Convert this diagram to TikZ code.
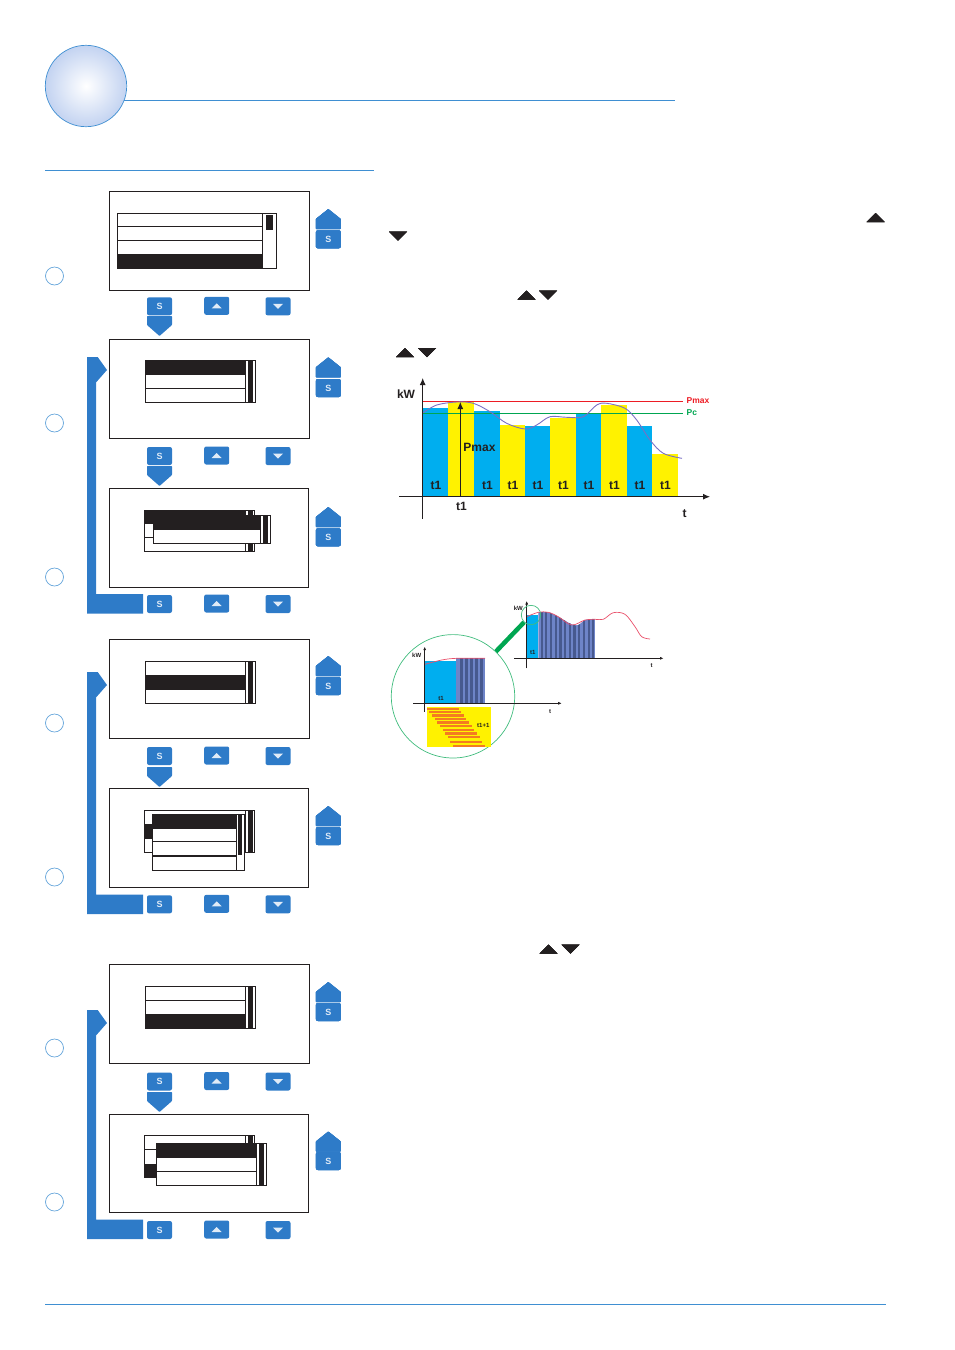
\documentclass[tikz,border=0pt]{standalone}
\usepackage{fontspec}
\setsansfont{Liberation Sans}
\usetikzlibrary{arrows.meta,shapes,positioning,calc,backgrounds,fit}
\definecolor{keyblue}{HTML}{2E7BC8}
\definecolor{rulecol}{HTML}{3F8FD2}
\definecolor{inkcol}{HTML}{231F20}
\definecolor{barcyan}{HTML}{00AEEF}
\definecolor{baryellow}{HTML}{FFF200}
\definecolor{curvecol}{HTML}{7A6FC4}
\definecolor{peakred}{HTML}{ED1C24}
\definecolor{pcgreen}{HTML}{00A651}
\definecolor{softred}{HTML}{E9506A}
\definecolor{stripelight}{HTML}{6E84C8}
\definecolor{stripedark}{HTML}{47598F}
\definecolor{stackorange}{HTML}{F47B20}
\definecolor{globeedge}{HTML}{C3D3F1}
\tikzset{
  keybtn/.style={fill=keyblue,rounded corners=2pt,minimum width=25pt,minimum height=18pt,inner sep=0pt,text=white!85!keyblue,font=\sffamily\bfseries\fontsize{9}{9}\selectfont},
  stepcirc/.style={circle,draw=rulecol!80,line width=.7pt,fill=white,minimum size=18pt,inner sep=0pt},
  rowline/.style={draw=inkcol,line width=1pt},
  chartlab/.style={inner sep=0pt,font=\sffamily\bfseries\fontsize{12}{12}\selectfont,text=inkcol},
  tinylab/.style={inner sep=0pt,font=\sffamily\bfseries\fontsize{6}{6}\selectfont,text=inkcol},
  peaklab/.style={inner sep=0pt,anchor=west,font=\sffamily\bfseries\fontsize{8.5}{9}\selectfont},
  axisline/.style={draw=inkcol,line width=.9pt,-{Latex[length=7pt,width=6pt]}},
  smallaxis/.style={draw=inkcol,line width=.6pt,-{Latex[length=3.5pt,width=3pt]}},
  tritip/.style={fill=inkcol}
}
%% keys: name, x, y
\newcommand{\keyS}[3]{\node[keybtn] (#1) at (#2,#3) {S};}
\newcommand{\keyUp}[3]{\node[keybtn] (#1) at (#2,#3) {};
  \fill[white!85!keyblue] ($(#1)+(-5,2.5)$) -- ($(#1)+(5,2.5)$) -- ($(#1)+(0,-2.5)$) -- cycle;}
\newcommand{\keyDown}[3]{\node[keybtn] (#1) at (#2,#3) {};
  \fill[white!85!keyblue] ($(#1)+(-5,-2.5)$) -- ($(#1)+(5,-2.5)$) -- ($(#1)+(0,2.5)$) -- cycle;}
%% pentagons: x centre, top y
\newcommand{\houseUp}[2]{\fill[keyblue,rounded corners=.6pt] (#1-12.5,#2+20) -- (#1-12.5,#2+10) -- (#1,#2) -- (#1+12.5,#2+10) -- (#1+12.5,#2+20) -- cycle;}
\newcommand{\houseDown}[2]{\fill[keyblue,rounded corners=.6pt] (#1-12.5,#2) -- (#1-12.5,#2+9) -- (#1,#2+20) -- (#1+12.5,#2+9) -- (#1+12.5,#2) -- cycle;}
%% bar on the left: top y, bottom y
\newcommand{\sideBar}[2]{\fill[keyblue] (87,#1) -- (97.7,#1) -- (107,#1+13) -- (96,#1+25.5) -- (96,#2-19.5) -- (143,#2-19.5) -- (143,#2) -- (87,#2) -- cycle;}
%% list: left, top, right, bottom, scroll x, selected top, selected bottom
\newcommand{\listBox}[7]{\draw[rowline,fill=white] (#1,#2) rectangle (#3,#4);
  \fill[inkcol] (#1,#6) rectangle (#5,#7);
  \draw[rowline] (#5,#2) -- (#5,#4);
  \draw[rowline] (#1,#2) rectangle (#3,#4);}
%% black pointers of the text column
\newcommand{\triUp}[2]{\fill[tritip] (#1-9,#2+4.5) -- (#1+9,#2+4.5) -- (#1,#2-4.5) -- cycle;}
\newcommand{\triDown}[2]{\fill[tritip] (#1-9,#2-4.5) -- (#1+9,#2-4.5) -- (#1,#2+4.5) -- cycle;}

\begin{document}
\begin{tikzpicture}[x=1pt,y=-1pt]
\useasboundingbox (0,0) rectangle (954,1350);
%% header
\draw[rulecol,line width=.7pt] (120,100.3) -- (675,100.3);
\draw[rulecol,line width=.7pt] (45,170.5) -- (374,170.5);
\draw[rulecol,line width=.7pt] (45,1304.3) -- (886,1304.3);
\shade[inner color=white,outer color=globeedge,draw=rulecol,line width=.7pt] (86,86) circle (40.7);
%% step circles
\foreach \nm/\yy in {a/276,b/423,c/577,d/723,e/877,f/1048,g/1202}
  \node[stepcirc] (step\nm) at (54.5,\yy) {};
%% side bars
\sideBar{357}{613.7}
\sideBar{672}{914}
\sideBar{1010}{1239}
%% screens
\foreach \xa/\ya/\xb/\yb in {109.5/191.5/309.5/290.5,109.5/339.5/309.5/438.5,109.5/488.5/308.5/587.5,109.5/639.5/309.5/738.5,109.5/788.5/308.5/887.5,109.5/964.5/309.5/1063.5,109.5/1114.5/308.5/1212.5}
  \draw[draw=inkcol,line width=1pt,fill=white] (\xa,\ya) rectangle (\xb,\yb);
%% screen 1
\listBox{117.3}{213.3}{276.7}{268.3}{262.3}{254}{268.3}
\draw[rowline] (117.3,226.5) -- (262.3,226.5);
\draw[rowline] (117.3,240.5) -- (262.3,240.5);
\fill[inkcol] (266,215) rectangle (273,230);
%% screen 2
\listBox{145.3}{360.3}{255.7}{402.3}{245.7}{360.3}{375}
\draw[rowline] (145.3,388.5) -- (245.7,388.5);
\fill[inkcol] (248,360.3) rectangle (253,402.3);
%% screen 3
\listBox{144.3}{510.3}{254.7}{551.3}{245.7}{510.3}{524}
\draw[rowline] (144.3,537.5) -- (245.7,537.5);
\fill[inkcol] (248,510.3) rectangle (253,551.3);
\listBox{153.3}{515.3}{270.7}{543.3}{260.7}{515.3}{530}
\fill[inkcol] (263,515.3) rectangle (268,543.3);
%% screen 4
\listBox{145.3}{661.3}{255.7}{703.3}{245.7}{675}{689.5}
\fill[inkcol] (248,661.3) rectangle (253,703.3);
%% screen 5
\listBox{144.3}{810.3}{254.7}{852.3}{245.7}{824.3}{839}
\fill[inkcol] (248,810.3) rectangle (253,852.3);
\listBox{152.3}{814.3}{244.7}{870.3}{236.7}{814.3}{829}
\draw[rowline] (152.3,841.5) -- (236.7,841.5);
\draw[draw=inkcol,line width=2pt] (152.3,856) -- (236.7,856);
\fill[inkcol] (238.3,814.3) rectangle (242,855);
%% screen 6
\listBox{145.3}{986.3}{255.7}{1028.3}{245.7}{1014}{1028.3}
\draw[rowline] (145.3,1000.5) -- (245.7,1000.5);
\fill[inkcol] (248,986.3) rectangle (253,1028.3);
%% screen 7
\listBox{144.3}{1135.3}{254.7}{1177.3}{245.7}{1163.5}{1177.3}
\draw[rowline] (144.3,1149.5) -- (245.7,1149.5);
\fill[inkcol] (248,1135.3) rectangle (253,1177.3);
\listBox{156.3}{1143.3}{266.7}{1185.3}{256.7}{1143.3}{1157.7}
\draw[rowline] (156.3,1171.5) -- (256.7,1171.5);
\fill[inkcol] (259.3,1143.3) rectangle (264.3,1185.3);
%% keys under the screens
\foreach \nm/\yy in {a/306.3,b/456,c/604,d/756,e/904.3,f/1081.5,g/1230}{
  \keyS{sel\nm}{159.5}{\yy}
  \keyUp{up\nm}{216.7}{\yy-.5}
  \keyDown{down\nm}{278}{\yy}
}
%% pentagons under the keys
\foreach \yy in {316,466,767,1092}
  \houseDown{159.5}{\yy}
%% keys right of the screens
\foreach \nm/\ya/\yb in {a/209/239.3,b/357.3/388,c/507/537.3,d/656/686,e/806/836,f/982/1012,g/1131.5/1161}{
  \houseUp{328.3}{\ya}
  \keyS{side\nm}{328.3}{\yb}
}
%% pointers
\triUp{875.5}{217.5}
\triDown{398}{236}
\triUp{526.5}{295}
\triDown{548}{295}
\triUp{405}{352.5}
\triDown{427}{352.5}
\triUp{548.5}{949}
\triDown{570.5}{949}
%% upper chart
\foreach \xa/\xb/\yt/\cc in {422.7/448/408/barcyan,448/474/402/baryellow,474/500/411/barcyan,500/525/425/baryellow,525/550/426/barcyan,550/576/417.7/baryellow,576/601/413.3/barcyan,601/627/405/baryellow,627/652/426/barcyan,652/677.7/454/baryellow}
  \fill[\cc] (\xa,\yt) rectangle (\xb,496.7);
\draw[peakred,line width=.7pt] (422.7,401.7) -- (683,401.7);
\draw[pcgreen,line width=.7pt] (422.7,413.3) -- (683,413.3);
\draw[curvecol,line width=.9pt] plot[smooth,tension=.55] coordinates {(422.7,413) (436.7,405) (456.7,402) (473.3,403.3) (490,411.7) (506.7,423.3) (525,429) (536.7,425) (550,416.7) (566.7,417.3) (583.3,416.7) (596.7,405) (606.7,403.3) (625,408.3) (636.7,420) (650,440) (663.3,453.3) (682,458.3)};
\draw[axisline] (399,496.7) -- (710,496.7);
\draw[axisline] (422.7,518.5) -- (422.7,378);
\draw[draw=inkcol,line width=.8pt,-{Latex[length=7pt,width=6pt]}] (460.3,496.7) -- (460.3,402);
\node[chartlab] (kw) at (406,394.5) {kW};
\node[chartlab] (pmaxin) at (479.5,447.5) {Pmax};
\foreach \xx in {436,487.5,513,538,563.5,589,614.5,640,665.5}
  \node[chartlab] at (\xx,485.5) {t1};
\node[chartlab] (tone) at (461.5,506) {t1};
\node[chartlab] (tend) at (684.5,514) {t};
\node[peaklab,text=peakred] (pmaxlab) at (686.5,401) {Pmax};
\node[peaklab,text=pcgreen] (pclab) at (686.5,413) {Pc};
%% lower chart, whole curve
\fill[barcyan] (526.7,615) rectangle (538.3,658.3);
\begin{scope}
  \clip (538.3,658.3) -- plot[smooth,tension=.55] coordinates {(538.3,612.3) (548.3,612.3) (558.3,616.7) (571.7,624.3) (578.3,625) (585,620) (595,619)} -- (595,658.3) -- cycle;
  \fill[stripelight] (538.3,608) rectangle (595,658.3);
  \foreach \ss in {0,...,11}
    \fill[stripedark] (540.5+\ss*4.7,608) rectangle (542.7+\ss*4.7,658.3);
\end{scope}
\draw[softred,line width=.7pt] plot[smooth,tension=.55] coordinates {(526.7,616.7) (538.3,612.3) (548.3,612.3) (558.3,616.7) (571.7,625) (585,620) (595,619.3) (603.3,619.3) (613.3,612.7) (625,614.3) (635,626.7) (641.7,636.7) (650,639)};
\draw[smallaxis] (514.3,658.3) -- (663.5,658.3);
\draw[smallaxis] (526.7,668.3) -- (526.7,601);
\node[tinylab] (kwtop) at (518.3,608.3) {kW};
\node[tinylab] (tonetop) at (532.7,652.3) {t1};
\node[tinylab] (ttop) at (651.7,666) {t};
%% enlarged part
\node[circle,draw=pcgreen!75,line width=.7pt,minimum size=123.4pt,inner sep=0pt] (biglens) at (453,696.3) {};
\node[circle,draw=pcgreen!75,line width=.7pt,minimum size=19.4pt,inner sep=0pt] (smalllens) at (531,615) {};
\draw[pcgreen,line width=4.5pt] (biglens) -- (smalllens);
\fill[barcyan] (424.7,661) rectangle (456,703.3);
\fill[stripelight] (456,658.3) rectangle (485,703.3);
\foreach \ss in {0,...,4}
  \fill[stripedark] (460+\ss*5,658.3) rectangle (462.5+\ss*5,703.3);
\draw[softred,line width=.7pt] plot[smooth,tension=.55] coordinates {(425,664.3) (441.7,660) (456.7,658.3) (485,658.3)};
\fill[baryellow] (427,707.3) rectangle (491,747);
\foreach \xa/\xb/\yy in {426.7/459/708.7,429/461/712,432/464/715.5,435/466/719,437/469/722.5,440/472/726.2,443/474/729.8,445/477/733.5,448/480/737,450/482/742,453/485/746}
  \fill[stackorange] (\xa,\yy-1.2) rectangle (\xb,\yy+1.2);
\draw[smallaxis] (413.3,703.3) -- (561.7,703.3);
\draw[smallaxis] (424.7,711.7) -- (424.7,646.7);
\node[tinylab] (kwbig) at (416.7,655) {kW};
\node[tinylab] (tonebig) at (441,698.3) {t1};
\node[tinylab] (tbig) at (550,711.7) {t};
\node[tinylab] (tnext) at (483.3,725.7) {t1+1};
\end{tikzpicture}
\end{document}
